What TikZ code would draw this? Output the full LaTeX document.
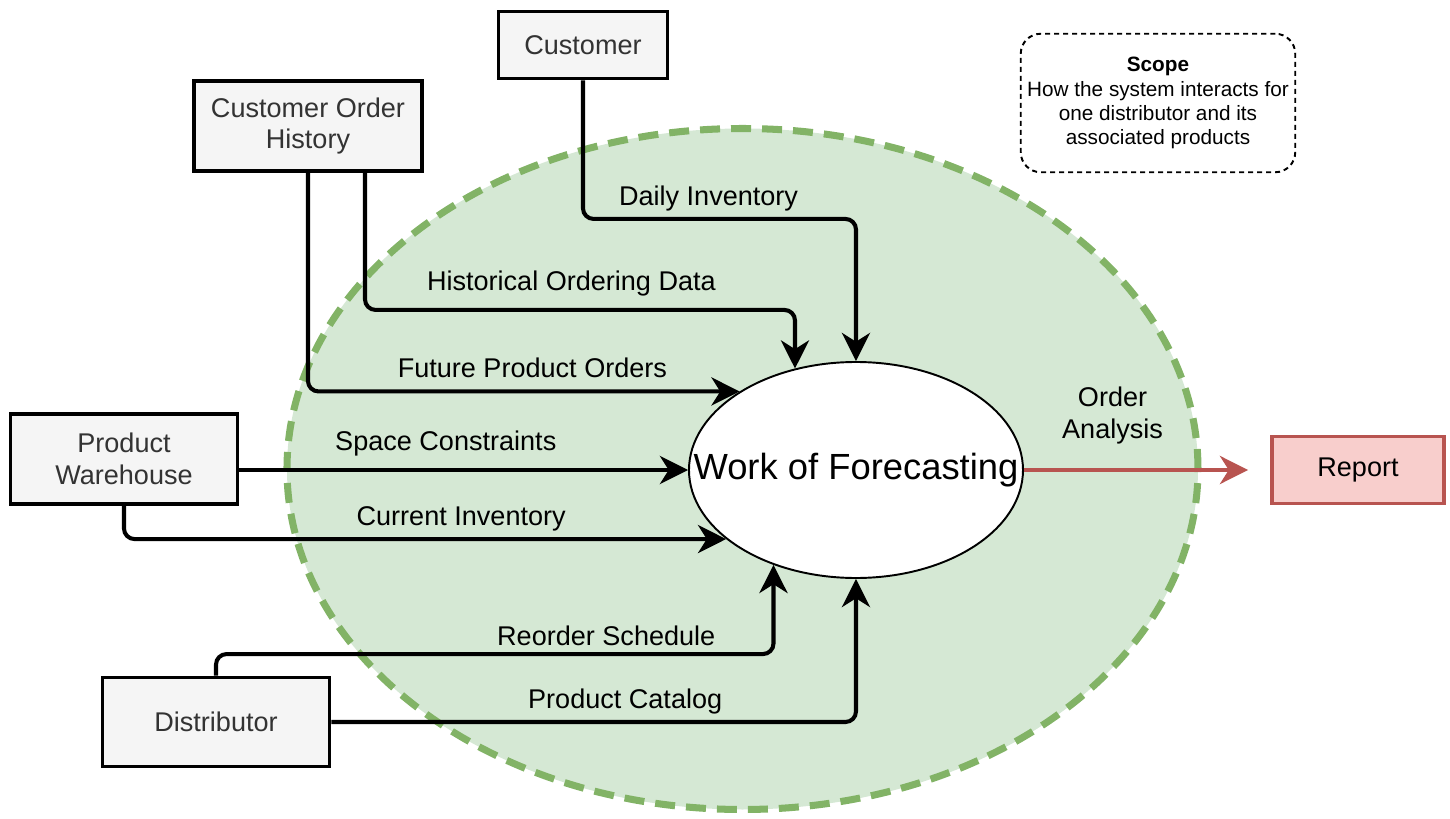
\documentclass[tikz,border=0pt]{standalone}
\usepackage{fontspec}
\setmainfont{Liberation Sans}
\usetikzlibrary{arrows.meta,shapes,calc}

\definecolor{scopefill}{HTML}{D5E8D4}
\definecolor{scopeline}{HTML}{82B366}
\definecolor{boxfill}{HTML}{F5F5F5}
\definecolor{boxtext}{HTML}{333333}
\definecolor{reportfill}{HTML}{F8CECC}
\definecolor{reportline}{HTML}{B85450}

\begin{document}
\begin{tikzpicture}[node distance = 2cm,
    entity/.style = {rectangle, draw=black, line width=2.2pt, fill=boxfill, text=boxtext, align=center, font=\fontsize{15.4}{18.2}\selectfont},
    flow/.style = {line width=2.3pt, rounded corners=6pt, -{Stealth[length=16pt, width=16pt, inset=5pt]}},
    lbl/.style = {above, font=\fontsize{15.4}{18.2}\selectfont}]
  \useasboundingbox (-17.12,-6.96) rectangle (11.88,9.4);

  \node[ellipse, draw=scopeline, fill=scopefill, line width=4pt, dash pattern=on 0.4cm off 0.22cm, minimum width=18.22cm, minimum height=13.62cm] (boundary) at (-2.27,0.02) {};
  \node[ellipse, draw=black, fill=white, line width=1.1pt, minimum width=6.68cm, minimum height=4.32cm,
        label={[font=\fontsize{20.7}{24}\selectfont]center:Work of Forecasting}] (work) at (0,0) {};

  \node[entity, minimum width=3.38cm, minimum height=1.34cm] (cust) at (-5.46,8.5) {Customer};
  \node[entity, minimum width=4.56cm, minimum height=1.80cm] (coh) at (-10.96,6.88) {Customer Order\\History};
  \node[entity, minimum width=4.54cm, minimum height=1.80cm] (pw) at (-14.64,0.22) {Product\\Warehouse};
  \node[entity, minimum width=4.54cm, minimum height=1.78cm] (dist) at (-12.8,-5.04) {Distributor};
  \node[entity, right of=work, node distance=10.04cm, draw=reportline, fill=reportfill, text=black, minimum width=3.44cm, minimum height=1.34cm] (report) {Report};

  \node[rectangle, rounded corners=0.4cm, draw=black, line width=1.1pt, dash pattern=on 0.1cm off 0.08cm, minimum width=5.49cm, minimum height=2.77cm,
        align=center, font=\fontsize{11.8}{13.7}\selectfont] (note) at (6.04,7.34) {\textbf{Scope}\\How the system interacts for\\one distributor and its\\associated products};

  \draw[flow] (cust.south) -- ++(0,-2.77) -| node[lbl, pos=0.23] {Daily Inventory} (work.north);
  \draw[flow] ([xshift=1.14cm]coh.south) -- ++(0,-2.74) -| node[lbl, above=3.5pt, pos=0.24] {Historical Ordering Data} (work.121);
  \draw[flow] (coh.south) |- node[lbl, above=3.5pt, pos=0.76] {Future Product Orders} (work.146);
  \draw[flow] (work.west -| pw.east) -- node[lbl, above=3.5pt, pos=0.46] {Space Constraints} (work.west);
  \draw[flow] (pw.south) |- node[lbl, pos=0.78] {Current Inventory} (work.208);
  \draw[flow] (dist.north) -- ++(0,0.43) -| node[lbl, pos=0.35] {Reorder Schedule} (work.229);
  \draw[flow] (dist.east) -| node[lbl, pos=0.28] {Product Catalog} (work.south);

  \draw[line width=2.3pt, draw=reportline, -{Stealth[length=16pt, width=16pt, inset=5pt]}, shorten >=0.44cm] (work.east) -- node[lbl, above=10pt, pos=0.36, align=center] {Order\\Analysis} (report.west);

\end{tikzpicture}
\end{document}
